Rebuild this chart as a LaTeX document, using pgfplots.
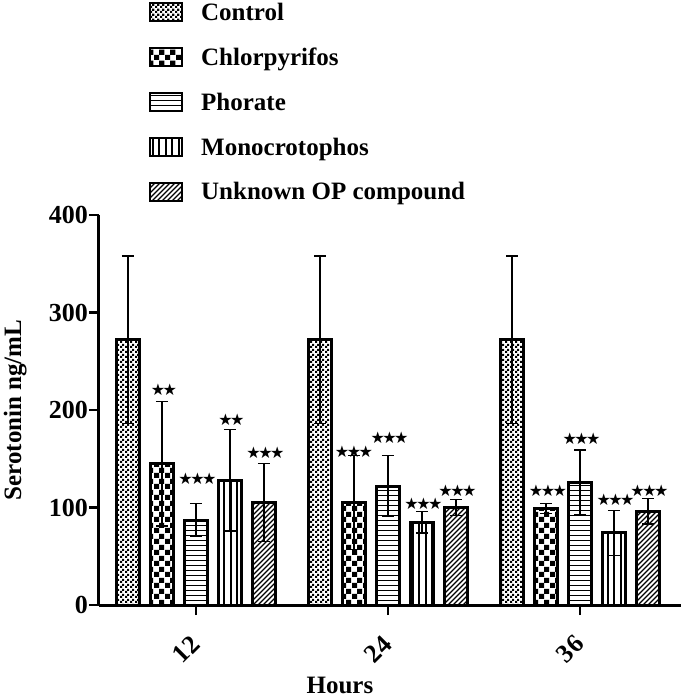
\documentclass[border=0pt]{standalone}
\usepackage{fontspec}
\setmainfont{Liberation Serif}
\newfontfamily\symfont{DejaVu Sans}
\usepackage{pgfplots}
\usepackage{pgfplotstable}
\pgfplotsset{compat=1.18}
\usetikzlibrary{patterns}
\newcommand\stwo{★\kern-2.5pt★}
\newcommand\sthree{★\kern-2.5pt★\kern-2.5pt★}

\pgfdeclarepatternformonly{finecheck}{\pgfpointorigin}{\pgfqpoint{5pt}{5pt}}{\pgfqpoint{5pt}{5pt}}{%
  \pgfpathrectangle{\pgfpointorigin}{\pgfqpoint{2.5pt}{2.5pt}}%
  \pgfpathrectangle{\pgfqpoint{2.5pt}{2.5pt}}{\pgfqpoint{2.5pt}{2.5pt}}%
  \pgfusepath{fill}}
\pgfdeclarepatternformonly{coarsecheck}{\pgfpointorigin}{\pgfqpoint{11pt}{11pt}}{\pgfqpoint{11pt}{11pt}}{%
  \pgfpathrectangle{\pgfpointorigin}{\pgfqpoint{5.5pt}{5.5pt}}%
  \pgfpathrectangle{\pgfqpoint{5.5pt}{5.5pt}}{\pgfqpoint{5.5pt}{5.5pt}}%
  \pgfusepath{fill}}
\pgfdeclarepatternformonly{hlin}{\pgfqpoint{-1pt}{-1pt}}{\pgfqpoint{6pt}{6pt}}{\pgfqpoint{5pt}{5pt}}{%
  \pgfsetlinewidth{1.3pt}%
  \pgfpathmoveto{\pgfqpoint{-1pt}{2.5pt}}\pgfpathlineto{\pgfqpoint{6pt}{2.5pt}}%
  \pgfusepath{stroke}}
\pgfdeclarepatternformonly{vlin}{\pgfqpoint{-1pt}{-1pt}}{\pgfqpoint{7.5pt}{7.5pt}}{\pgfqpoint{6.5pt}{6.5pt}}{%
  \pgfsetlinewidth{1.6pt}%
  \pgfpathmoveto{\pgfqpoint{3.25pt}{-1pt}}\pgfpathlineto{\pgfqpoint{3.25pt}{7.5pt}}%
  \pgfusepath{stroke}}
\pgfdeclarepatternformonly{diag}{\pgfqpoint{-1pt}{-1pt}}{\pgfqpoint{6pt}{6pt}}{\pgfqpoint{5pt}{5pt}}{%
  \pgfsetlinewidth{1.2pt}%
  \pgfpathmoveto{\pgfqpoint{0pt}{0pt}}\pgfpathlineto{\pgfqpoint{5.1pt}{5.1pt}}%
  \pgfusepath{stroke}}

\pgfplotstableread{
x y e
1 272 86
2 272 86
3 272 86
}\tcontrol
\pgfplotstableread{
x y e
1 145 64
2 105 48
3 99 5
}\tchlor
\pgfplotstableread{
x y e
1 87 17
2 122 31
3 126 33
}\tphor
\pgfplotstableread{
x y e
1 128 52
2 85 11
3 74 23
}\tmono
\pgfplotstableread{
x y e
1 105 40
2 100 8
3 96 13
}\tunk

\begin{document}
\begin{tikzpicture}
\begin{axis}[
  scale only axis, width=582pt, height=390pt,
  xmin=0.495, xmax=3.526, ymin=0, ymax=400,
  axis x line*=bottom, axis y line*=left,
  axis line style={line width=3pt},
  xtick={1,2,3}, xticklabels={12,24,36},
  ytick={0,100,200,300,400},
  tick align=outside, major tick length=10pt,
  tick style={line width=2.5pt, black},
  /pgf/number format/assume math mode=true,
  ticklabel style={font=\fontsize{26}{26}\selectfont\bfseries},
  yticklabel style={inner sep=1pt},
  xticklabel style={xshift=-10pt, yshift=-34pt, rotate=45, anchor=center, inner sep=0pt},
  ylabel={Serotonin ng/mL},
  ylabel style={at={(axis description cs:-0.144,0.5)}, anchor=center, inner sep=0pt, font=\fontsize{25}{25}\selectfont\bfseries},
  xlabel={Hours},
  xlabel style={at={(axis description cs:0.414,-0.2282)}, anchor=base, inner sep=0pt, font=\fontsize{25}{25}\selectfont\bfseries},
  legend style={draw=none, fill=none, at={(axis description cs:0.0859,1.549)}, anchor=north west,
    inner sep=0pt, outer sep=0pt, row sep=22pt,
    font=\fontsize{25}{25}\selectfont\bfseries,
    /tikz/every odd column/.append style={column sep=16pt}},
  legend cell align=left,
  clip=false,
  mybar/.style={ybar, bar width=0.12, bar shift=0pt, draw=black, line width=3pt,
    legend image code/.code={\draw[##1, line width=2.2pt] (0pt,-9pt) rectangle (32pt,9pt);},
    error bars/y dir=both, error bars/y explicit,
    error bars/error bar style={line width=1.3pt, black},
    error bars/error mark options={line width=1.3pt, black, mark size=6pt, rotate=90}},
]
\addplot[mybar, pattern=finecheck] table[x expr=\thisrow{x}-0.354, y=y, y error=e] {\tcontrol};
\addlegendentry{Control}
\addplot[mybar, pattern=coarsecheck] table[x expr=\thisrow{x}-0.177, y=y, y error=e] {\tchlor};
\addlegendentry{Chlorpyrifos}
\addplot[mybar, pattern=hlin] table[x=x, y=y, y error=e] {\tphor};
\addlegendentry{Phorate}
\addplot[mybar, pattern=vlin] table[x expr=\thisrow{x}+0.177, y=y, y error=e] {\tmono};
\addlegendentry{Monocrotophos}
\addplot[mybar, pattern=diag] table[x expr=\thisrow{x}+0.354, y=y, y error=e] {\tunk};
\addlegendentry{Unknown OP compound}

\addplot[draw=none, mark=none, forget plot, nodes near coords, point meta=explicit symbolic,
  every node near coord/.style={anchor=center, inner sep=0pt, font=\symfont\fontsize{16}{16}\selectfont}]
  table[x=x, y=y, meta=s] {
x y s
0.833 220.5 \stwo
1.008 129 \sthree
1.185 190 \stwo
1.362 156 \sthree
1.823 157 \sthree
2.008 172 \sthree
2.185 103.6 \sthree
2.362 117 \sthree
2.833 117 \sthree
3.008 171 \sthree
3.185 107.7 \sthree
3.362 117 \sthree
};
\end{axis}
\pgfresetboundingbox
\path (-99pt,-93pt) rectangle (586pt,605pt);
\end{tikzpicture}
\end{document}
